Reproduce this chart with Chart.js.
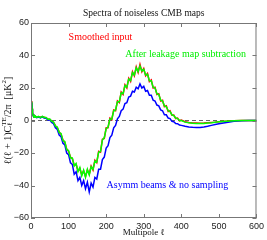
<!DOCTYPE html>
<html>
<head>
<meta charset="utf-8">
<script src="https://cdn.jsdelivr.net/npm/chart.js@4/dist/chart.umd.min.js"></script>
<style>
  html, body { margin: 0; padding: 0; background: #fff; }
  #wrap { width: 267px; height: 240px; }
</style>
</head>
<body>
<div id="wrap"><canvas id="myChart" width="267" height="240"></canvas></div>
<script>
// multipole values
const ell = [2,3,4,6,8,10,15,20,25,30,35,40,45,50,55,60,65,70,75,80,85,90,95,100,
  105,110,115,120,125,130,135,140,145,150,155,160,165,170,175,180,185,190,195,200,
  205,210,215,220,225,230,235,240,245,250,255,260,265,270,275,280,285,290,295,300,
  305,310,315,320,325,330,335,340,345,350,355,360,365,370,375,380,385,390,395,400,
  410,420,430,440,450,460,470,480,490,500,520,540,560,580,600];

// smoothed input (red)
const smoothedInput = [12,7.5,5,3,2.2,2.8,2.2,2.3,2,2.4,2,1.6,1,0.7,-0.3,-1.3,-3.2,-4.5,-7,-8.5,
  -12,-13.5,-17.5,-19,-22.5,-23.5,-27.5,-27,-31,-29.5,-33.5,-31,-34.5,-30.5,-33,-28,-30.5,-24.5,-26,-19,
  -19.5,-11.5,-11,-4.5,-4.5,1.5,0.5,6.5,6,12,11,17.5,16,22,20,26,24,30,27.5,33,
  29.5,34.5,30,32,27.5,29,24,25,20,20.5,16,16.5,12,12.5,8.5,9,5.5,6,3.2,3.3,
  1.2,1.5,-0.2,0.2,-0.8,-1.2,-1.5,-1.6,-1.7,-1.6,-1.4,-1.2,-1,-0.7,-0.4,-0.1,0,0,0];

// after leakage map subtraction (green)
const afterLeakage = [11.5,7,4.5,3,2,3,2,2.5,1.8,2.6,1.9,1.8,0.8,0.9,-0.5,-1,-3.5,-4,-7.5,-8,
  -12.5,-13,-18,-18.5,-23,-23,-28,-26.5,-31.5,-29,-34,-30.5,-35,-30,-33.5,-28.5,-30,-25,-25.5,-19.5,
  -19,-12,-10.5,-5,-4,1,1,6,6.5,11.5,11.5,17,16.5,21.5,20.5,25.5,24.5,29.5,28,32.5,
  30,33.5,30.5,31.5,28,28.5,24.5,24.5,20.5,20,16.5,16,12.5,12,9,8.5,6,5.5,3.5,3,
  1.5,1.2,0,0,-1,-1.4,-1.7,-1.8,-1.9,-1.8,-1.6,-1.4,-1.1,-0.8,-0.5,-0.2,0,0,0];

// asymmetric beams, no sampling (blue)
const asymmBeams = [11,7,4.5,2.8,2,2.8,1.8,2.2,1.6,2.3,1.5,1.4,0.3,0.4,-1.2,-2,-4.5,-5.5,-9,-10,
  -14,-15,-20,-21,-26,-27,-33,-31.5,-37,-35,-40,-37,-42,-38,-44,-38.5,-41,-35,-36,-30,
  -30,-24,-22.5,-17,-15.5,-10.5,-9,-4.5,-3,1,2.5,6,7,10.5,11,14.5,15,18,17.5,20.5,
  19.5,22.5,20,21,18,18.5,15.5,15.5,12.5,12,9.5,9,6.5,6,3.5,3.5,1.5,1.2,-0.5,-0.7,
  -1.8,-2,-2.8,-3,-3.6,-4,-4.2,-4.3,-4.3,-4,-3.6,-3,-2.5,-2,-1.2,-0.5,-0.1,0,0];

const xTicks = [0,100,200,300,400,500,600];
const yTicks = [-60,-40,-20,0,20,40,60];

function pts(vals) {
  return ell.map((l, i) => ({ x: l, y: vals[i] }));
}

const serif = '"Liberation Serif", "DejaVu Serif", serif';
const sans = '"Liberation Sans", Arial, sans-serif';

// frame, inward ticks and all the text
const decorPlugin = {
  id: "decor",
  afterDraw(chart) {
    const c = chart.ctx;
    const a = chart.chartArea;
    const xs = chart.scales.x;
    const ys = chart.scales.y;
    c.save();
    c.strokeStyle = "#777";
    c.lineWidth = 1;
    c.strokeRect(a.left + 0.5, a.top + 0.5, a.right - a.left - 1, a.bottom - a.top - 1);
    c.beginPath();
    xTicks.forEach((t) => {
      const px = Math.round(xs.getPixelForValue(t)) + 0.5;
      c.moveTo(px, a.bottom); c.lineTo(px, a.bottom - 4);
      c.moveTo(px, a.top); c.lineTo(px, a.top + 4);
    });
    yTicks.forEach((t) => {
      const py = Math.round(ys.getPixelForValue(t)) + 0.5;
      c.moveTo(a.left, py); c.lineTo(a.left + 4, py);
      c.moveTo(a.right, py); c.lineTo(a.right - 4, py);
    });
    c.stroke();

    // title
    c.fillStyle = "#111";
    c.font = "9.5px " + serif;
    c.textAlign = "center";
    c.textBaseline = "middle";
    c.fillText("Spectra of noiseless CMB maps", (a.left + a.right) / 2, 13);

    // x axis label
    c.font = "9px " + serif;
    c.fillText("Multipole \u2113", (a.left + a.right) / 2, 233);

    // series labels
    c.textAlign = "left";
    c.font = "10px " + serif;
    c.fillStyle = "#ff0000";
    c.fillText("Smoothed input", xs.getPixelForValue(100), ys.getPixelForValue(51));
    c.fillStyle = "#00ee00";
    c.fillText("After leakage map subtraction", xs.getPixelForValue(251), ys.getPixelForValue(41));
    c.fillStyle = "#0000ff";
    c.fillText("Asymm beams & no sampling", xs.getPixelForValue(201), ys.getPixelForValue(-39.7));

    // y axis label, rotated, in pieces for sub/superscripts
    const runs = [
      ["\u2113(\u2113 + 1)C", 10, 0],
      ["\u2113", 7, 2.5],
      ["TE", 7, -3.5],
      ["/2\u03c0  [\u03bcK", 10, 0],
      ["2", 7, -3.5],
      ["]", 10, 0]
    ];
    c.save();
    c.translate(8, (a.top + a.bottom) / 2);
    c.rotate(-Math.PI / 2);
    c.fillStyle = "#111";
    let total = 0;
    const widths = runs.map((r, i) => {
      c.font = r[1] + "px " + serif;
      let w = c.measureText(r[0]).width;
      if (i === 1) w = 0; // subscript sits under the superscript
      return w;
    });
    widths.forEach((w) => (total += w));
    let x = -total / 2;
    runs.forEach((r, i) => {
      c.font = r[1] + "px " + serif;
      c.fillText(r[0], x, r[2]);
      x += widths[i];
    });
    c.restore();
    c.restore();
  }
};

const ctx = document.getElementById("myChart").getContext("2d");

new Chart(ctx, {
  type: "line",
  data: {
    datasets: [
      {
        label: "After leakage map subtraction",
        data: pts(afterLeakage),
        borderColor: "#00ff00",
        borderWidth: 1.5,
        order: 1
      },
      {
        label: "Asymm beams & no sampling",
        data: pts(asymmBeams),
        borderColor: "#0000ff",
        borderWidth: 1.5,
        order: 2
      },
      {
        label: "Smoothed input",
        data: pts(smoothedInput),
        borderColor: "#ff0000",
        borderWidth: 1.5,
        order: 3
      },
      {
        label: "zero",
        data: [{ x: 0, y: 0 }, { x: 600, y: 0 }],
        borderColor: "#666",
        borderWidth: 1,
        borderDash: [4, 3],
        order: 4
      }
    ]
  },
  options: {
    responsive: false,
    animation: false,
    parsing: false,
    elements: { point: { radius: 0 }, line: { tension: 0 } },
    layout: { padding: { left: 0, right: 9, top: 23, bottom: 0 } },
    plugins: { legend: { display: false }, tooltip: { enabled: false } },
    scales: {
      x: {
        type: "linear",
        min: 0,
        max: 600,
        afterBuildTicks: (s) => { s.ticks = xTicks.map((v) => ({ value: v })); },
        afterFit: (s) => { s.height = 22; },
        grid: { display: false, drawTicks: false },
        border: { display: false },
        ticks: { padding: 3, color: "#222", font: { size: 9, family: sans }, maxRotation: 0 }
      },
      y: {
        type: "linear",
        min: -60,
        max: 60,
        afterBuildTicks: (s) => { s.ticks = yTicks.map((v) => ({ value: v })); },
        afterFit: (s) => { s.width = 31; },
        grid: { display: false, drawTicks: false },
        border: { display: false },
        ticks: {
          padding: 2,
          color: "#222",
          font: { size: 9, family: sans },
          callback: (v) => String(v).replace("-", "\u2212")
        }
      }
    }
  },
  plugins: [decorPlugin]
});
</script>
</body>
</html>
